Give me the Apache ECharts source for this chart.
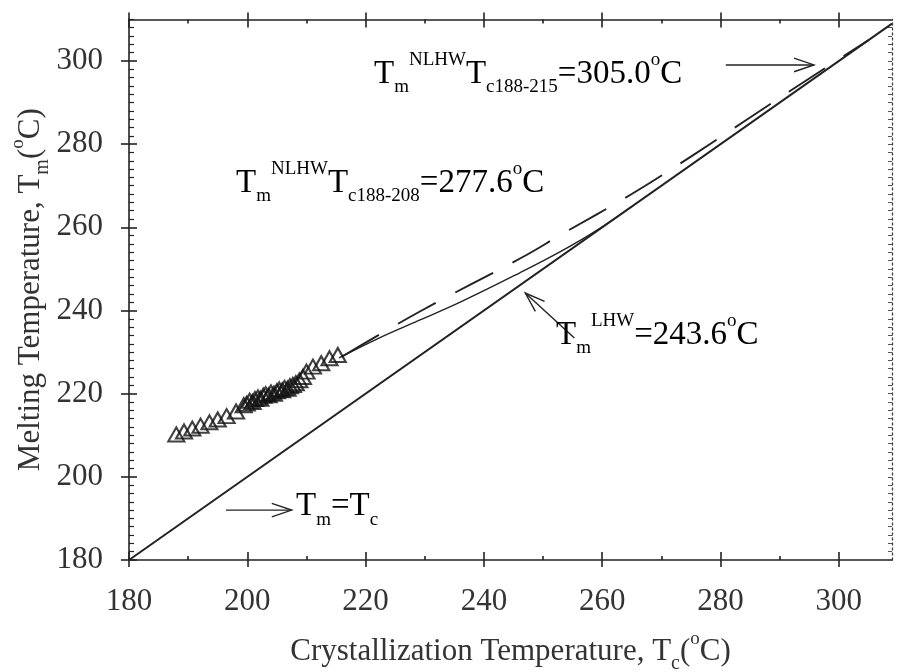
<!DOCTYPE html>
<html><head><meta charset="utf-8">
<script src="https://cdn.jsdelivr.net/npm/echarts@6/dist/echarts.min.js"></script>
<style>html,body{margin:0;padding:0;background:#fff}#c{width:897px;height:672px}</style>
</head><body><div id="c"></div>
<script>
// ---- data ----
const xTicks = [180, 200, 220, 240, 260, 280, 300];
const yTicks = [180, 200, 220, 240, 260, 280, 300];
const tcData = [188.0,189.3,190.7,192.1,193.6,195.0,196.5,198.1,199.4,199.9,200.4,200.9,201.3,201.8,202.2,202.7,203.1,203.6,204.0,204.5,205.0,205.4,205.9,206.3,206.8,207.2,207.7,208.2,208.8,209.4,210.0,211.1,212.5,213.9,215.3];
const tmData = [210.2,210.9,211.6,212.3,213.1,213.8,214.6,215.7,217.2,217.6,218.3,218.0,218.7,219.1,218.8,219.5,219.9,219.6,220.3,220.0,220.6,221.0,220.8,221.4,221.2,221.8,222.1,222.5,223.2,224.0,225.3,226.5,227.3,228.5,229.3];
const lhwTc = [215.5, 222, 229, 236, 246, 253, 259, 265];
const lhwTm = [228.6, 233.2, 237.6, 242.0, 249.0, 254.2, 259.2, 265.0];
const nlhwTc = [216, 229.1, 246.5, 253, 265, 275, 285, 295, 305];
const nlhwTm = [228.9, 239.7, 252.8, 258.2, 268.0, 277.0, 286.4, 295.8, 305];
const diagTc = [180, 309];
const diagTm = [180, 309];

const xMinor = xTicks.map(v => v + 10);
const yMinor = [];
yTicks.forEach(v => { for (let k = 2; k < 20; k += 2) yMinor.push(v + k); });

const serif = 'Liberation Serif';
const ink = '#222';
const rich = {
  b: {fontSize: 33, fontFamily: serif, color: ink, lineHeight: 46, verticalAlign: 'middle'},
  sub: {fontSize: 19, fontFamily: serif, color: ink, lineHeight: 20, verticalAlign: 'bottom'},
  sup: {fontSize: 19, fontFamily: serif, color: ink, lineHeight: 20, verticalAlign: 'top'}
};
const nameRich = {
  b: {fontSize: 31, fontFamily: serif, color: '#333', lineHeight: 44, verticalAlign: 'middle'},
  sub: {fontSize: 20, fontFamily: serif, color: '#333', lineHeight: 20, verticalAlign: 'bottom'},
  sup: {fontSize: 19, fontFamily: serif, color: '#333', lineHeight: 20, verticalAlign: 'top'}
};

const X0 = 180, X1 = 309, Y0 = 180, Y1 = 310;
const lineC = {color: ink, width: 1.6};
function xAx(pos, opts) {
  return Object.assign({type: 'value', min: X0, max: X1, position: pos, splitLine: {show: false},
    axisLine: {show: false, lineStyle: lineC}, axisLabel: {show: false}, axisTick: {show: false}}, opts);
}
function yAx(pos, opts) {
  return Object.assign({type: 'value', min: Y0, max: Y1, position: pos, splitLine: {show: false},
    axisLine: {show: false, lineStyle: lineC}, axisLabel: {show: false}, axisTick: {show: false}}, opts);
}

const chart = echarts.init(document.getElementById('c'), null, {renderer: 'canvas'});
const option = {
  backgroundColor: '#fff',
  animation: false,
  grid: {left: 129, right: 5, top: 19.4, bottom: 112, containLabel: false, outerBoundsMode: 'none'},
  xAxis: [
    xAx('bottom', {axisLine: {show: true, lineStyle: lineC},
      axisTick: {show: true, inside: true, length: 8, customValues: xTicks, lineStyle: lineC},
      axisLabel: {show: true, customValues: xTicks, margin: 26, fontSize: 31, fontFamily: serif, color: '#333'},
      name: '{b|Crystallization Temperature, T}{sub|c}{b|(}{sup|o}{b|C)}', nameLocation: 'middle', nameGap: 70,
      nameMoveOverlap: false, nameTextStyle: {rich: nameRich}}),
    xAx('bottom', {axisTick: {show: true, inside: false, length: 7, customValues: xTicks, lineStyle: lineC}}),
    xAx('bottom', {axisTick: {show: true, inside: true, length: 4, customValues: xMinor, lineStyle: lineC}}),
    xAx('top', {axisLine: {show: true, lineStyle: lineC},
      axisTick: {show: true, inside: true, length: 8, customValues: xTicks, lineStyle: lineC}}),
    xAx('top', {axisTick: {show: true, inside: false, length: 7, customValues: xTicks, lineStyle: lineC}}),
    xAx('top', {axisTick: {show: true, inside: true, length: 4, customValues: xMinor, lineStyle: lineC}})
  ],
  yAxis: [
    yAx('left', {axisLine: {show: true, lineStyle: lineC},
      axisTick: {show: true, inside: true, length: 8, customValues: yTicks, lineStyle: lineC},
      axisLabel: {show: true, customValues: yTicks, margin: 26, fontSize: 31, fontFamily: serif, color: '#333'},
      name: '{b|Melting Temperature, T}{sub|m}{b|(}{sup|o}{b|C)}', nameLocation: 'middle', nameGap: 76, nameRotate: 90,
      nameMoveOverlap: false, nameTextStyle: {rich: nameRich}}),
    yAx('left', {axisTick: {show: true, inside: false, length: 8, customValues: yTicks, lineStyle: lineC}}),
    yAx('left', {axisTick: {show: true, inside: true, length: 5, customValues: yMinor, lineStyle: {color: ink, width: 1.2}}}),
    yAx('right', {axisLine: {show: true, lineStyle: {color: '#444', width: 1.3, type: [2, 3]}},
      axisTick: {show: true, inside: true, length: 4, customValues: yMinor.concat(yTicks), lineStyle: {color: '#555', width: 1}}})
  ],
  series: [
    {type: 'line', name: 'Tm=Tc', data: diagTc.map((v, i) => [v, diagTm[i]]), showSymbol: false,
      lineStyle: {color: ink, width: 2}, z: 2},
    {type: 'line', name: 'LHW', data: lhwTc.map((v, i) => [v, lhwTm[i]]), showSymbol: false, smooth: 0.4,
      lineStyle: {color: ink, width: 1.4}, z: 3},
    {type: 'line', name: 'NLHW', data: nlhwTc.map((v, i) => [v, nlhwTm[i]]), showSymbol: false, smooth: 0.4,
      lineStyle: {color: ink, width: 1.9, type: [43, 22]}, z: 3},
    {type: 'scatter', name: 'data', data: tcData.map((v, i) => [v, tmData[i]]), symbol: 'triangle', symbolSize: [16, 14],
      itemStyle: {color: 'rgba(0,0,0,0)', borderColor: '#111', borderWidth: 2.1}, z: 4}
  ]
};
chart.setOption(option);

function px(p) { return chart.convertToPixel({xAxisIndex: 0, yAxisIndex: 0}, p); }
function arrow(from, to) {
  const a = px(from), b = px(to);
  const ang = Math.atan2(b[1] - a[1], b[0] - a[0]);
  const L = 21, W = 0.33;
  const h1 = [b[0] - L * Math.cos(ang - W), b[1] - L * Math.sin(ang - W)];
  const h2 = [b[0] - L * Math.cos(ang + W), b[1] - L * Math.sin(ang + W)];
  const st = {stroke: ink, lineWidth: 1.4, fill: null};
  return [
    {type: 'polyline', shape: {points: [a, b]}, style: st, silent: true},
    {type: 'polyline', shape: {points: [h1, b, h2]}, style: st, silent: true}
  ];
}
function label(left, top, text) {
  return {type: 'text', left: left, top: top, style: {text: text, rich: rich}, silent: true};
}
const g = [].concat(
  arrow([280.9, 299.05], [295.8, 299.05]),
  arrow([196.4, 192.0], [207.5, 192.0]),
  arrow([255.3, 233.4], [247.0, 244.2]),
  [
    label(374, 51, '{b|T}{sub|m}{sup|NLHW}{b|T}{sub|c188-215}{b|=305.0}{sup|o}{b|C}'),
    label(236, 160, '{b|T}{sub|m}{sup|NLHW}{b|T}{sub|c188-208}{b|=277.6}{sup|o}{b|C}'),
    label(556, 312, '{b|T}{sub|m}{sup|LHW}{b|=243.6}{sup|o}{b|C}'),
    label(296, 490, '{b|T}{sub|m}{b|=T}{sub|c}')
  ]
);
chart.setOption({graphic: g});
</script>
</body></html>
